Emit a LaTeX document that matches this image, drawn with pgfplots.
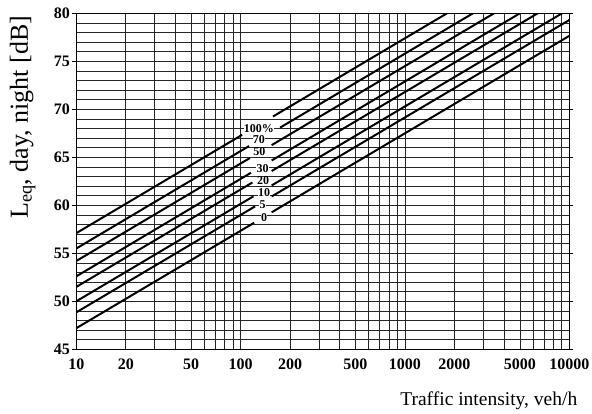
\documentclass[border=0pt]{standalone}
\usepackage{fontspec}
\setmainfont{Liberation Serif}
\usepackage{pgfplots}
\pgfplotsset{compat=1.18}
\begin{document}
\begin{tikzpicture}
\begin{axis}[
  at={(0,0)}, anchor=south west,
  scale only axis, width=493pt, height=336pt,
  xmode=log, xmin=10, xmax=10000, ymin=45, ymax=80,
  xtick={10,20,30,40,50,60,70,80,90,100,200,300,400,500,600,700,800,900,1000,2000,3000,4000,5000,6000,7000,8000,9000,10000},
  xticklabels={10,20,,,50,,,,,100,200,,,500,,,,,1000,2000,,,5000,,,,,10000},
  ytick={45,50,...,80},
  minor ytick={46,47,48,49,51,52,53,54,56,57,58,59,61,62,63,64,66,67,68,69,71,72,73,74,76,77,78,79},
  grid=both,
  major grid style={black!85, line width=0.6pt},
  minor grid style={black!85, line width=0.6pt},
  axis line style={black, line width=0.8pt},
  tick label style={font=\bfseries\fontsize{16}{16}\selectfont},
  /pgf/number format/assume math mode=true,
  tick align=outside,
  major tick length=4pt, minor tick length=0pt,
  xtick style={draw=none},
  ytick style={black, line width=0.6pt},
  xticklabel style={yshift=-2pt},
  yticklabel style={xshift=1pt},
  clip=true,
]
% 100 %
\addplot[black, line width=2pt] coordinates {(10,57.1) (102.1,67.34)};
\addplot[black, line width=2pt] coordinates {(157.4,69.25) (1803,80)};
% 70
\addplot[black, line width=2pt] coordinates {(10,55.5) (112.5,66.17)};
\addplot[black, line width=2pt] coordinates {(173.8,68.09) (2594,80)};
% 50
\addplot[black, line width=2pt] coordinates {(10,54.2) (114.0,64.93)};
\addplot[black, line width=2pt] coordinates {(154.5,66.27) (3483,80)};
% 30
\addplot[black, line width=2pt] coordinates {(10,52.6) (115.6,63.39)};
\addplot[black, line width=2pt] coordinates {(154.5,64.67) (5005,80)};
% 20
\addplot[black, line width=2pt] coordinates {(10,51.5) (118.0,62.38)};
\addplot[black, line width=2pt] coordinates {(154.5,63.57) (6427,80)};
% 10
\addplot[black, line width=2pt] coordinates {(10,50.0) (119.7,60.94)};
\addplot[black, line width=2pt] coordinates {(154.5,62.07) (9036,80)};
% 5
\addplot[black, line width=2pt] coordinates {(10,48.85) (122.5,59.89)};
\addplot[black, line width=2pt] coordinates {(154.5,60.92) (10000,79.3)};
% 0
\addplot[black, line width=2pt] coordinates {(10,47.2) (120.8,58.18)};
\addplot[black, line width=2pt] coordinates {(154.5,59.27) (10000,77.65)};

\begin{scope}[every node/.style={fill=white, inner sep=0.2pt, font=\bfseries\fontsize{12}{12}\selectfont}]
\node at (axis cs:129,67.98) {100\%};
\node at (axis cs:129,66.85) {70};
\node at (axis cs:130,65.55) {50};
\node at (axis cs:136,63.85) {30};
\node at (axis cs:137,62.55) {20};
\node at (axis cs:139,61.3) {10};
\node at (axis cs:136,60.08) {5};
\node at (axis cs:139,58.73) {0};
\end{scope}
\end{axis}
\node[anchor=base east, font=\fontsize{19.5}{19.5}\selectfont] at (504.5pt,-55.7pt) {Traffic intensity, veh/h};
\node[rotate=90, anchor=base east, font=\fontsize{26}{26}\selectfont] at (-48.5pt,337pt) {L\textsubscript{eq}, day, night [dB]};
\pgfresetboundingbox
\path[use as bounding box] (-76.3pt,-63.7pt) rectangle (515.7pt,349.3pt);
\end{tikzpicture}
\end{document}
